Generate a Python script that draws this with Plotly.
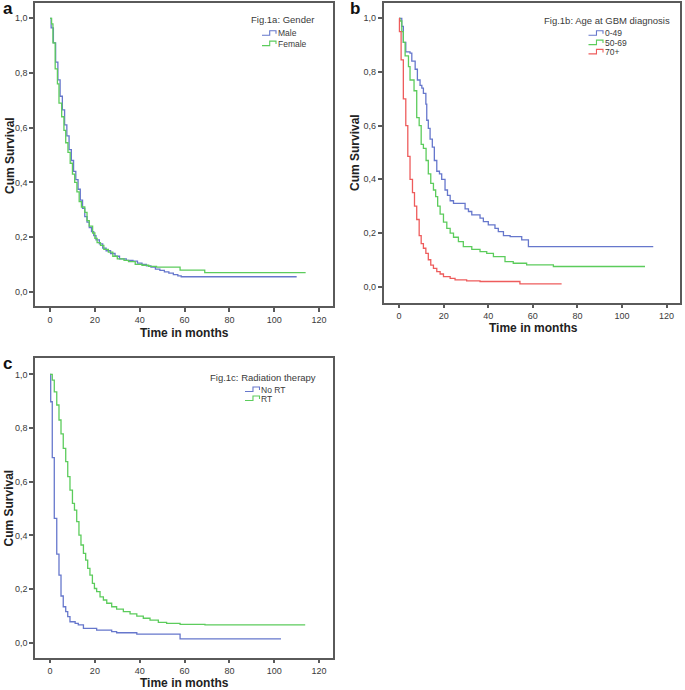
import plotly.graph_objects as go

# ---------------- data ----------------
# Panel a: Gender
male_t = [0, 0.5, 1.5, 2.5, 3.5, 4.5, 5.5, 6.5, 7.5, 8.5, 9.5, 10.5, 11.5, 12.5, 13.5, 14.5, 15.5, 16.5, 17.5, 18.5,
          19.5, 20.5, 22, 23.5, 25, 27, 29, 31, 34, 37, 39, 41, 43, 45, 47, 49, 51, 53, 55, 57, 58.5, 110]
male_s = [1.0, .965, .91, .84, .775, .715, .665, .61, .57, .52, .48, .44, .41, .375, .335, .305, .275, .255, .235, .22,
          .205, .19, .175, .16, .15, .14, .13, .12, .115, .112, .105, .10, .095, .09, .083, .078, .073, .068, .063, .058, .055, .055]
female_t = [0, 0.7, 1.3, 2.3, 3.3, 4, 5.2, 6.2, 7, 8, 9, 10, 11, 12, 13, 14, 15.5, 16.5, 17.5, 19,
            20, 21, 22.5, 24, 26, 28, 30, 33, 35, 38, 41, 44, 47.5, 58, 69, 114]
female_s = [1.0, .98, .91, .815, .76, .69, .64, .59, .545, .51, .47, .43, .40, .365, .33, .31, .29, .26, .24, .215,
            .195, .18, .17, .155, .145, .13, .12, .115, .11, .10, .097, .093, .09, .079, .07, .07]

# Panel b: Age at GBM diagnosis
age1_t = [0, 1.2, 1.9, 3.0, 4.9, 5.7, 7.2, 8.2, 9.4, 10.2, 10.9, 12.0, 12.4, 13.1, 13.9, 14.9, 15.8, 16.9, 18.1, 19.1,
          20.6, 21.7, 22.9, 24.4, 29.6, 31.1, 32.6, 36.3, 37.8, 40.0, 43.0, 44.5, 46.8, 49.8, 55.0, 58.0, 114]
age1_s = [1.0, .97, .91, .875, .87, .84, .81, .77, .75, .74, .72, .68, .62, .59, .55, .52, .47, .43, .42, .40,
          .36, .34, .32, .31, .29, .28, .267, .255, .242, .23, .217, .205, .19, .186, .174, .149, .149]
age2_t = [0, 0.4, 1.2, 1.9, 2.7, 4.2, 4.9, 6.7, 7.9, 9.0, 9.9, 10.9, 12.1, 13.1, 14.2, 15.4, 16.4, 17.3, 18.4, 19.9,
          21.4, 22.9, 24.4, 26.6, 28.8, 32.6, 36.3, 39.3, 42.3, 47.5, 51.2, 57.2, 69.2, 110.3]
age2_s = [1.0, .99, .95, .91, .86, .82, .77, .73, .63, .60, .53, .515, .47, .42, .385, .36, .335, .30, .27, .24,
          .217, .199, .184, .168, .149, .139, .13, .124, .112, .093, .087, .081, .075, .075]
age3_t = [0, 0.15, 0.9, 1.9, 3.0, 3.9, 4.9, 6.0, 6.9, 7.9, 9.0, 9.9, 10.9, 12.0, 13.1, 14.2, 15.4, 16.9, 18.4, 19.9,
          22.9, 25.1, 30.3, 36.3, 54.2, 72.9]
age3_s = [1.0, .95, .845, .70, .60, .485, .40, .35, .30, .25, .19, .16, .143, .124, .10, .08, .068, .056, .047, .037,
          .031, .025, .021, .019, .01, .01]

# Panel c: Radiation therapy
nort_t = [0, 0.3, 1.0, 1.9, 3.0, 4.0, 4.9, 5.9, 7.0, 7.9, 8.9, 11.2, 12.6, 14.9, 20.8, 27.5, 29.7, 38.7, 58.0, 103]
nort_s = [1.0, .898, .69, .463, .33, .252, .174, .134, .116, .097, .078, .072, .066, .053, .047, .041, .037, .032, .014, .014]
rt_t = [0, 1.0, 1.9, 3.0, 4.0, 4.9, 5.9, 7.0, 7.9, 8.9, 10.0, 10.9, 11.9, 12.9, 13.8, 14.9, 15.9, 16.8, 17.8, 18.9,
        19.8, 20.8, 22.3, 23.8, 25.3, 27.5, 29.7, 32.7, 35.7, 38.7, 41.6, 44.6, 48.3, 52.0, 58.0, 69.1, 113.8]
rt_s = [1.0, .979, .935, .886, .83, .778, .724, .675, .619, .569, .519, .494, .451, .401, .364, .333, .308, .277, .252, .221,
        .202, .19, .171, .159, .147, .134, .125, .116, .107, .099, .091, .084, .076, .072, .068, .066, .066]

x_ticks = [0, 20, 40, 60, 80, 100, 120]
y_ticks = [0.0, 0.2, 0.4, 0.6, 0.8, 1.0]
y_ticktext = ["0,0", "0,2", "0,4", "0,6", "0,8", "1,0"]

panel_titles = ["Fig.1a: Gender", "Fig.1b: Age at GBM diagnosis", "Fig.1c: Radiation therapy"]
panel_letters = ["a", "b", "c"]
x_title = "Time in months"
y_title = "Cum Survival"

# ---------------- styles ----------------
W, H = 685, 690
BLUE = "#6677cc"
GREEN = "#5ccc5c"
RED = "#ee5c5c"
FONT = "Liberation Sans, Arial, sans-serif"

def px(x):
    return x / W

def py(y):
    return 1 - y / H

panels = [
    ([("Male", male_t, male_s, BLUE), ("Female", female_t, female_s, GREEN)],
     (35, 333), (3, 306), [-6.7, 126.2], [-0.052, 1.056]),
    ([("0-49", age1_t, age1_s, BLUE), ("50-69", age2_t, age2_s, GREEN), ("70+", age3_t, age3_s, RED)],
     (383.5, 680), (3, 302.7), [-7.0, 126.0], [-0.060, 1.057]),
    ([("No RT", nort_t, nort_s, BLUE), ("RT", rt_t, rt_s, GREEN)],
     (35, 333), (358.3, 657.7), [-6.7, 126.2], [-0.056, 1.06]),
]

legend_pos = [
    (282.5, 19.5, 262, 276, 33.3, 10.3),
    (606.5, 20.0, 588.5, 603, 33.3, 9.3),
    (263.0, 377.0, 245, 259.5, 389.5, 9.0),
]
label_pos = [
    ((8, 8.5), (10, 156), (184, 333)),
    ((355, 8), (355, 153), (533, 328)),
    ((8, 363), (8.5, 508), (184, 683)),
]

fig = go.Figure()
annotations = []
shapes = []

for i, (series, xd, yd, xr, yr) in enumerate(panels):
    suffix = "" if i == 0 else str(i + 1)
    xa = "x" + suffix
    ya = "y" + suffix
    for name, t, s, col in series:
        fig.add_trace(go.Scatter(x=t, y=s, mode="lines", line=dict(shape="hv", color=col, width=1.3),
                                 name=name, showlegend=False, xaxis=xa, yaxis=ya, hoverinfo="skip"))
    axis_common = dict(showgrid=False, zeroline=False, showline=True, mirror=True,
                       linecolor="#5a5a5a", linewidth=1.5, ticks="outside", ticklen=4,
                       tickwidth=1.5, tickcolor="#5a5a5a",
                       tickfont=dict(family=FONT, size=9, color="#3a3a3a"))
    fig.layout["xaxis" + suffix] = dict(axis_common, domain=[px(xd[0]), px(xd[1])], range=xr,
                                        tickvals=x_ticks, anchor=ya)
    fig.layout["yaxis" + suffix] = dict(axis_common, domain=[py(yd[1]), py(yd[0])], range=yr,
                                        tickvals=y_ticks, ticktext=y_ticktext, anchor=xa)

    tcx, tty, ix0, ix1, iy0, istep = legend_pos[i]
    annotations.append(dict(x=px(tcx), y=py(tty), xref="paper", yref="paper", text=panel_titles[i],
                            showarrow=False, xanchor="center", yanchor="middle",
                            font=dict(family=FONT, size=9.5, color="#3a3a3a")))
    for k, (name, t, s, col) in enumerate(series):
        yy = iy0 + k * istep
        xm = ix0 + (ix1 - ix0) * 0.55
        path = "M {a},{b} L {c},{b} L {c},{d} L {e},{d} L {e},{f}".format(
            a=px(ix0), b=py(yy + 2), c=px(xm), d=py(yy - 2.5), e=px(ix1), f=py(yy + 0.5))
        shapes.append(dict(type="path", path=path, xref="paper", yref="paper",
                           line=dict(color=col, width=1.1)))
        annotations.append(dict(x=px(ix1 - 0.5), y=py(yy), xref="paper", yref="paper", text=name,
                                showarrow=False, xanchor="left", yanchor="middle",
                                font=dict(family=FONT, size=8.5, color="#3a3a3a")))

    (lx, ly), (ytx, yty), (xtx, xty) = label_pos[i]
    annotations.append(dict(x=px(lx), y=py(ly), xref="paper", yref="paper", text="<b>%s</b>" % panel_letters[i],
                            showarrow=False, xanchor="center", yanchor="middle",
                            font=dict(family=FONT, size=17, color="#111")))
    annotations.append(dict(x=px(ytx), y=py(yty), xref="paper", yref="paper", text="<b>%s</b>" % y_title,
                            showarrow=False, xanchor="center", yanchor="middle", textangle=-90,
                            font=dict(family=FONT, size=12, color="#222")))
    annotations.append(dict(x=px(xtx), y=py(xty), xref="paper", yref="paper", text="<b>%s</b>" % x_title,
                            showarrow=False, xanchor="center", yanchor="middle",
                            font=dict(family=FONT, size=12, color="#222")))

fig.update_layout(width=W, height=H, margin=dict(l=0, r=0, t=0, b=0),
                  paper_bgcolor="white", plot_bgcolor="white",
                  annotations=annotations, shapes=shapes, showlegend=False)

fig.write_html("out.html", config={"displayModeBar": False},
               post_script="document.body.style.margin='0';document.body.style.overflow='hidden';")
